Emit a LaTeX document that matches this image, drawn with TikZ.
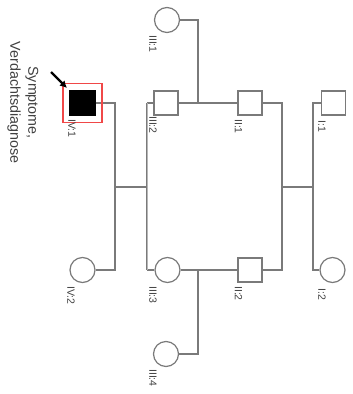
\documentclass[tikz,border=0pt]{standalone}
\usepackage{fontspec}
\setmainfont{Liberation Sans}
\usetikzlibrary{arrows.meta}
\definecolor{linegray}{HTML}{7A7A7A}
\definecolor{txtgray}{HTML}{404040}
\definecolor{framered}{HTML}{F04848}
\begin{document}
\begin{tikzpicture}[x=1pt,y=-1pt,
  conn/.style={draw=linegray,line width=1.2pt},
  male/.style={draw=linegray,line width=1.2pt,rectangle,minimum size=24pt,inner sep=0pt,fill=white},
  female/.style={draw=linegray,line width=1.2pt,circle,minimum size=25pt,inner sep=0pt,fill=white},
  lab/.style={rotate=-90,anchor=west,inner sep=0pt,text=txtgray,font=\fontsize{10.5}{12}\selectfont},
  note/.style={rotate=-90,align=center,inner sep=0pt,text=txtgray,font=\fontsize{14.3}{18}\selectfont}]
\useasboundingbox (0,0) rectangle (353,394);
\fill[white] (0,0) rectangle (353,394);
% individuals
\node[male] (I1) at (333.5,103) {};
\node[female] (I2) at (332.5,270) {};
\node[male] (II1) at (250,103) {};
\node[male] (II2) at (250,270) {};
\node[female] (III1) at (167,20) {};
\node[male] (III2) at (166,103) {};
\node[female] (III3) at (167.5,270) {};
\node[female] (III4) at (166,354) {};
\node[male,fill=black,draw=black,minimum size=25pt] (IV1) at (82.5,103) {};
\node[female] (IV2) at (82.5,270) {};
% line junctions
\coordinate (m1) at (282,187);
\coordinate (m2) at (313,187);
\coordinate (s1) at (198,103);
\coordinate (s2) at (198,270);
\coordinate (ct) at (147,103);
\coordinate (cb) at (147,270);
\coordinate (c1) at (147,187);
\coordinate (d1) at (115,187);
% connectors
\draw[conn] (II1.east) -| (m1) -- (m2) |- (I1.west);
\draw[conn] (II2.east) -| (m1);
\draw[conn] (m2) |- (I2.west);
\draw[conn] (III2.east) -- (II1.west);
\draw[conn] (III1.east) -| (s1);
\draw[conn] (III3.east) -- (II2.west);
\draw[conn] (III4.east) -| (s2);
\draw[conn] (III2.west) -- (ct);
\draw[conn] (III3.west) -- (cb);
\draw[draw=linegray,line width=1.2pt,double=linegray!55,double distance=0.5pt] (ct) -- (cb);
\draw[conn] (c1) -- (d1);
\draw[conn] (IV1.east) -| (d1);
\draw[conn] (IV2.east) -| (d1);
% highlight frame and arrow
\node[draw=framered,line width=1.7pt,rectangle,minimum size=39pt,inner sep=0pt] (frame) at (IV1) {};
\coordinate (arrstart) at (51,72);
\coordinate (arrtip) at (67,88);
\draw[black,line width=2.2pt,-{Latex[length=7pt,width=7.5pt]}] (arrstart) -- (arrtip);
% labels
\node[lab] (lI1) at (322,120) {I:1};
\node[lab] (lI2) at (322,288) {I:2};
\node[lab] (lII1) at (238.5,119) {II:1};
\node[lab] (lII2) at (238.5,286) {II:2};
\node[lab] (lIII1) at (153,35) {III:1};
\node[lab] (lIII2) at (153,116) {III:2};
\node[lab] (lIII3) at (153,286) {III:3};
\node[lab] (lIII4) at (153,369) {III:4};
\node[lab] (lIV1) at (72,119) {IV:1};
\node[lab] (lIV2) at (71,286) {IV:2};
\node[note] (note) at (23,102.5) {Symptome,\\Verdachtsdiagnose};
\end{tikzpicture}
\end{document}
